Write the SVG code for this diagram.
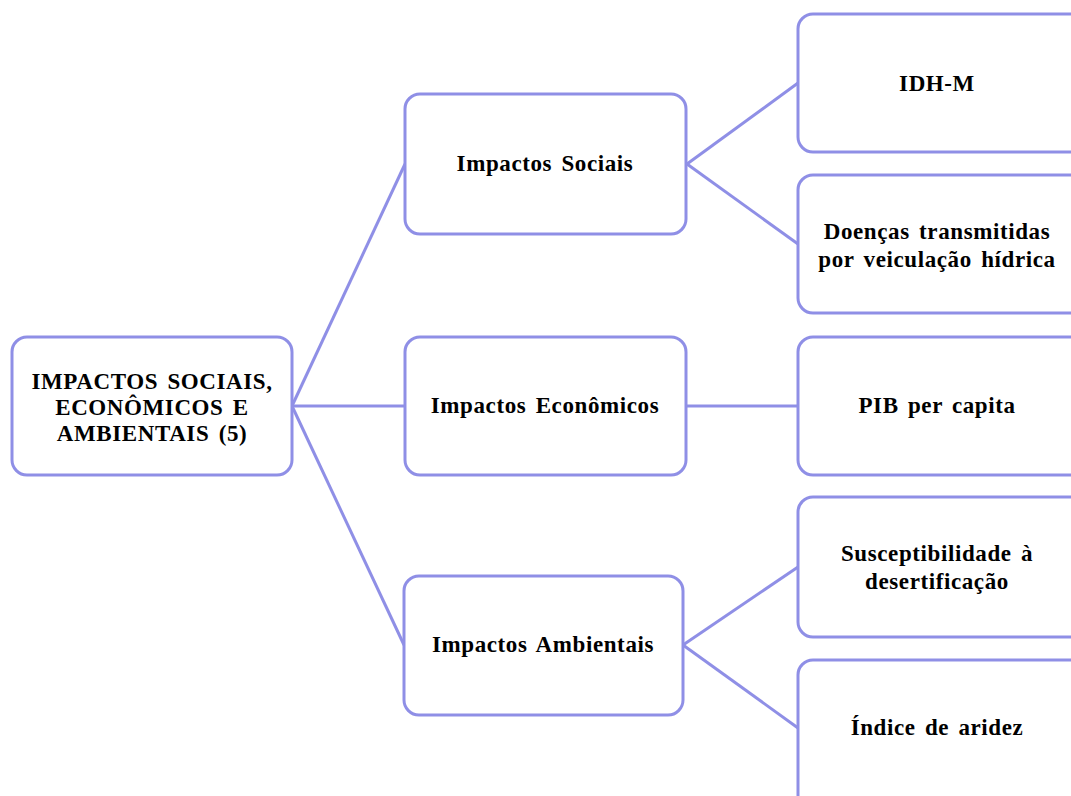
<svg xmlns="http://www.w3.org/2000/svg" width="1071" height="796" viewBox="0 0 1071 796">
<style>
.box{fill:#ffffff;stroke:#8f8fe6;stroke-width:3}
.ln{stroke:#8f8fe6;stroke-width:3;fill:none}
text{font-family:"Liberation Serif","Times New Roman",serif;font-weight:bold;font-size:23px;fill:#000;text-anchor:middle;dominant-baseline:central;letter-spacing:0.6px;word-spacing:3px}
</style>
<rect width="1071" height="796" fill="#ffffff"/>
<g id="connectors">
<line class="ln" x1="292" y1="406" x2="405" y2="164"/>
<line class="ln" x1="292" y1="406" x2="405" y2="406"/>
<line class="ln" x1="292" y1="406" x2="404" y2="645"/>
<line class="ln" x1="687" y1="164" x2="798" y2="83"/>
<line class="ln" x1="687" y1="164" x2="798" y2="244"/>
<line class="ln" x1="687" y1="406" x2="798" y2="406"/>
<line class="ln" x1="683" y1="645" x2="798" y2="567"/>
<line class="ln" x1="683" y1="645" x2="798" y2="728"/>
</g>
<g id="root">
<rect class="box" x="12" y="337" width="280" height="138" rx="15"/>
<text x="152" y="381">IMPACTOS SOCIAIS,</text>
<text x="152" y="407">ECONÔMICOS E</text>
<text x="152" y="433">AMBIENTAIS (5)</text>
</g>
<g id="sociais">
<rect class="box" x="405" y="94" width="281" height="140" rx="15"/>
<text x="545" y="163">Impactos Sociais</text>
</g>
<g id="economicos">
<rect class="box" x="405" y="337" width="281" height="138" rx="15"/>
<text x="545" y="405">Impactos Econômicos</text>
</g>
<g id="ambientais">
<rect class="box" x="404" y="576" width="279" height="139" rx="15"/>
<text x="543" y="644">Impactos Ambientais</text>
</g>
<g id="idhm">
<rect class="box" x="798" y="14" width="290" height="138" rx="15"/>
<text x="937" y="83">IDH-M</text>
</g>
<g id="doencas">
<rect class="box" x="798" y="175" width="290" height="138" rx="15"/>
<text x="937" y="231">Doenças transmitidas</text>
<text x="937" y="259">por veiculação hídrica</text>
</g>
<g id="pib">
<rect class="box" x="798" y="337" width="290" height="138" rx="15"/>
<text x="937" y="405">PIB per capita</text>
</g>
<g id="susc">
<rect class="box" x="798" y="497" width="290" height="140" rx="15"/>
<text x="937" y="553">Susceptibilidade à</text>
<text x="937" y="581">desertificação</text>
</g>
<g id="indice">
<rect class="box" x="798" y="660" width="290" height="160" rx="15"/>
<text x="937" y="727">Índice de aridez</text>
</g>
</svg>
